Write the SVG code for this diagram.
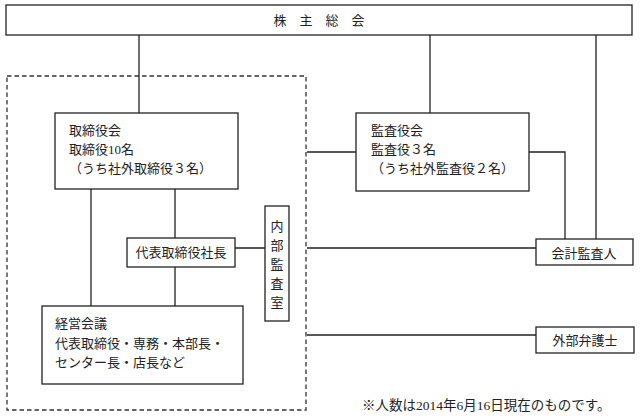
<svg xmlns="http://www.w3.org/2000/svg" width="640" height="419" viewBox="0 0 640 419">
<style>
.b{fill:#fff;stroke:#222;stroke-width:1.3}
.c{fill:none;stroke:#222;stroke-width:1.3}
.d{fill:none;stroke:#333;stroke-width:1.3;stroke-dasharray:4.5 3}
text{font-family:"Liberation Serif","Noto Sans CJK JP",serif;font-size:13px;fill:#222}
.m{text-anchor:middle}
</style>
<rect width="640" height="419" fill="#fff"/>
<g id="connectors">
<path class="c" d="M139 35V113M430 35V113M596 35V239"/>
<path class="c" d="M91 189V306M175 189V238M175 267V306M235 248H265"/>
<path class="c" d="M307 152H356M529 152H565V239M307 248H536M307 335H536"/>
</g>
<rect id="group-boundary" class="d" x="7" y="76" width="299" height="334"/>
<g id="shareholders">
<rect class="b" x="6" y="5" width="626" height="30"/>
<text class="m" x="319" y="25">株　主　総　会</text>
</g>
<g id="board">
<rect class="b" x="55" y="113" width="183" height="76"/>
<text x="69" y="135">取締役会</text>
<text x="69" y="154">取締役10名</text>
<text x="69" y="173">（うち社外取締役３名）</text>
</g>
<g id="auditors">
<rect class="b" x="356" y="113" width="173" height="78"/>
<text x="371" y="135">監査役会</text>
<text x="371" y="154">監査役３名</text>
<text x="371" y="173">（うち社外監査役２名）</text>
</g>
<g id="president">
<rect class="b" x="127" y="238" width="108" height="29"/>
<text class="m" x="181" y="257">代表取締役社長</text>
</g>
<g id="internal-audit">
<rect class="b" x="265" y="206" width="24" height="115"/>
<text class="m" x="277" y="231">内<tspan x="277" y="250">部</tspan><tspan x="277" y="269">監</tspan><tspan x="277" y="288">査</tspan><tspan x="277" y="307">室</tspan></text>
</g>
<g id="management">
<rect class="b" x="42" y="306" width="201" height="78"/>
<text x="55" y="328">経営会議</text>
<text x="55" y="348">代表取締役・専務・本部長・</text>
<text x="55" y="367">センター長・店長など</text>
</g>
<g id="accounting-auditor">
<rect class="b" x="536" y="239" width="97" height="26"/>
<text class="m" x="584" y="258">会計監査人</text>
</g>
<g id="external-lawyer">
<rect class="b" x="536" y="327" width="98" height="26"/>
<text class="m" x="585" y="345">外部弁護士</text>
</g>
<text x="362" y="410" style="font-size:13.5px">※人数は2014年6月16日現在のものです。</text>
</svg>
